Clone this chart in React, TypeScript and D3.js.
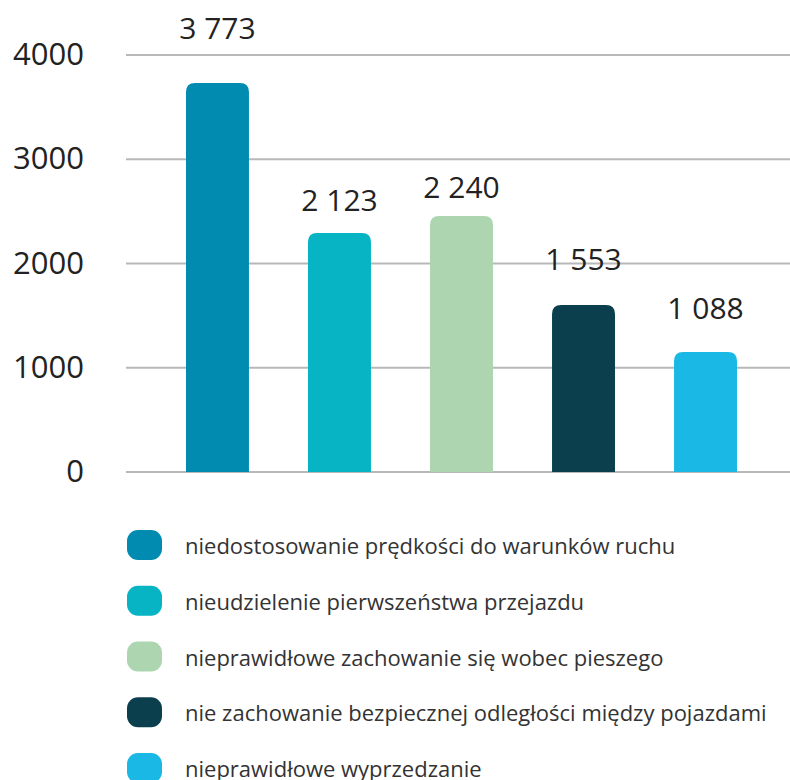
import * as d3 from "d3";
import React from "react";

const categories = [
  "niedostosowanie prędkości do warunków ruchu",
  "nieudzielenie pierwszeństwa przejazdu",
  "nieprawidłowe zachowanie się wobec pieszego",
  "nie zachowanie bezpiecznej odległości między pojazdami",
  "nieprawidłowe wyprzedzanie",
];

// printed values above bars
const values = [3773, 2123, 2240, 1553, 1088];
// bar heights as drawn in the picture (they don't quite follow the labels)
const barValues = [3731, 2293, 2456, 1602, 1151];

const yTicks = [0, 1000, 2000, 3000, 4000];

const colors = ["#028bb0", "#07b4c3", "#acd5b0", "#0b3f4e", "#1ab8e4"];

const WIDTH = 790;
const HEIGHT = 780;
const FONT = "'Open Sans', sans-serif";

// bar with rounded top corners only
const barPath = (x: number, y: number, w: number, h: number, r: number) =>
  `M${x},${y + h}V${y + r}Q${x},${y} ${x + r},${y}H${x + w - r}Q${x + w},${y} ${x + w},${y + r}V${y + h}Z`;

const fmt = (v: number) => d3.format(",")(v).replace(/,/g, " ");

export default function App() {
  const x = d3
    .scaleBand<string>()
    .domain(categories)
    .range([186, 737])
    .paddingInner(0.484)
    .paddingOuter(0);

  const y = d3.scaleLinear().domain([0, 4000]).range([472, 55]);

  const legendY = d3
    .scalePoint<string>()
    .domain(categories)
    .range([545, 768]);

  return (
    <svg
      width={WIDTH}
      height={HEIGHT}
      style={{ position: "absolute", left: 0, top: 0, background: "#fff" }}
      fontFamily={FONT}
    >
      {/* grid + y labels */}
      {yTicks.map((t) => (
        <g key={t}>
          <line x1={126} x2={WIDTH} y1={y(t)} y2={y(t)} stroke="#b8b8b8" strokeWidth={2} />
          <text
            x={84}
            y={y(t) - 2}
            textAnchor="end"
            dominantBaseline="central"
            fontSize={31}
            fill="#222"
          >
            {t}
          </text>
        </g>
      ))}

      {/* bars */}
      {categories.map((c, i) => {
        const bx = x(c)!;
        const by = y(barValues[i]);
        return (
          <g key={c}>
            <path d={barPath(bx, by, x.bandwidth(), y(0) - by, 9)} fill={colors[i]} />
            <text
              x={bx + x.bandwidth() / 2}
              y={y(values[i]) - 40}
              textAnchor="middle"
              fontSize={30}
              fill="#222"
            >
              {fmt(values[i])}
            </text>
          </g>
        );
      })}

      {/* legend */}
      {categories.map((c, i) => (
        <g key={"l" + c} transform={`translate(127, ${legendY(c)})`}>
          <rect x={0} y={-15} width={35} height={30} rx={11} fill={colors[i]} />
          <text x={58} y={0} dominantBaseline="central" fontSize={22} fill="#333">
            {c}
          </text>
        </g>
      ))}
    </svg>
  );
}
